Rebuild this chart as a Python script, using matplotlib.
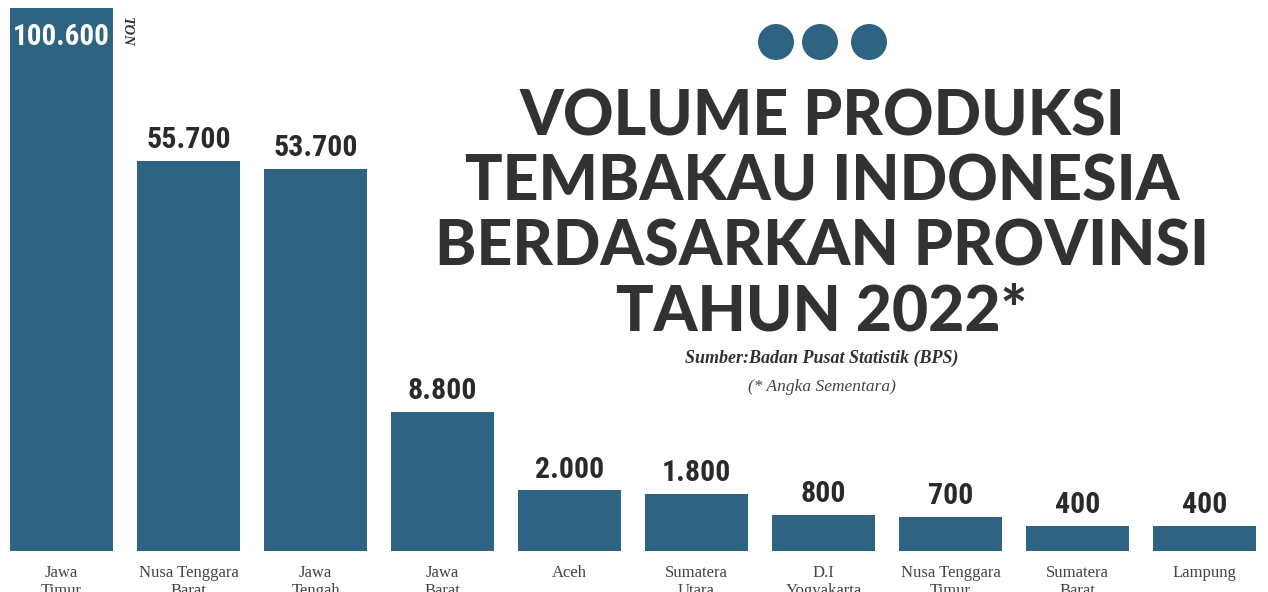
import numpy as np
import matplotlib
matplotlib.use("Agg")
from matplotlib import pyplot as plt
from matplotlib.patches import Circle
from matplotlib import font_manager

provinces = ["Jawa\nTimur", "Nusa Tenggara\nBarat", "Jawa\nTengah", "Jawa\nBarat", "Aceh",
             "Sumatera\nUtara", "D.I\nYogyakarta", "Nusa Tenggara\nTimur", "Sumatera\nBarat", "Lampung"]
volume = [100600, 55700, 53700, 8800, 2000, 1800, 800, 700, 400, 400]
value_labels = ["100.600", "55.700", "53.700", "8.800", "2.000", "1.800", "800", "700", "400", "400"]

title_lines = "VOLUME PRODUKSI\nTEMBAKAU INDONESIA\nBERDASARKAN PROVINSI\nTAHUN 2022*"

BAR = "#2e6381"
DARK = "#333132"

names = {f.name for f in font_manager.fontManager.ttflist}
narrow, stretch = "DejaVu Sans", "condensed"
for cand in ["Roboto Condensed", "Liberation Sans Narrow", "Open Sans Condensed"]:
    if cand in names:
        narrow, stretch = cand, "normal"
        break
serif = "Liberation Serif"
heavy = "Lato" if "Lato" in names else "DejaVu Sans"

fig = plt.figure(figsize=(12.68, 5.92), dpi=100)
ax = fig.add_axes([0, 41 / 592, 1, 551 / 592])

# power scale so the small provinces still show up
p = 0.56
ax.set_yscale("function", functions=(lambda v: np.sign(v) * np.abs(v) ** p,
                                     lambda v: np.sign(v) * np.abs(v) ** (1 / p)))
ymax = (volume[0] ** p * 551 / 543) ** (1 / p)
ax.set_ylim(0, ymax)
ax.set_xlim(-0.485, 9.5)

x = np.arange(len(volume))
ax.bar(x, volume, width=0.81, color=BAR)

for i, (v, lab) in enumerate(zip(volume, value_labels)):
    if i == 0:
        ax.annotate(lab, (i, v), xytext=(0, -11), textcoords="offset points",
                    ha="center", va="top", color="white", fontsize=21,
                    fontfamily=narrow, fontweight="bold", fontstretch=stretch)
    else:
        ax.annotate(lab, (i, v), xytext=(0, 5), textcoords="offset points",
                    ha="center", va="bottom", color="#2a2a2a", fontsize=21.5,
                    fontfamily=narrow, fontweight="bold", fontstretch=stretch)

ax.set_xticks(x)
ax.set_xticklabels(provinces, fontsize=12, fontfamily=serif, color="#444444",
                   linespacing=1.2)
ax.tick_params(axis="x", length=0, pad=10)
ax.set_yticks([])
for s in ax.spines.values():
    s.set_visible(False)

fig.text(126 / 1268, 1 - 32 / 592, "TON", rotation=-90, ha="center", va="center",
         fontsize=10.5, fontfamily=serif, fontweight="bold", fontstyle="italic", color=DARK)

# three dots
for cx in [7.76, 8.20, 8.69]:
    fig.add_artist(Circle((cx, 5.92 - 0.42), 0.18, transform=fig.dpi_scale_trans,
                          color=BAR, lw=0))

fig.text(822 / 1268, 1 - 215 / 592, title_lines, ha="center", va="center",
         fontsize=45, fontfamily=heavy, fontweight="black", color=DARK,
         linespacing=1.15)

fig.text(822 / 1268, 1 - 358 / 592, "Sumber:Badan Pusat Statistik (BPS)", ha="center",
         va="center", fontsize=13, fontfamily=serif, fontweight="bold",
         fontstyle="italic", color=DARK)
fig.text(822 / 1268, 1 - 387 / 592, "(* Angka Sementara)", ha="center", va="center",
         fontsize=12.5, fontfamily=serif, fontstyle="italic", color="#444444")

fig.savefig("out.png", dpi=100)
